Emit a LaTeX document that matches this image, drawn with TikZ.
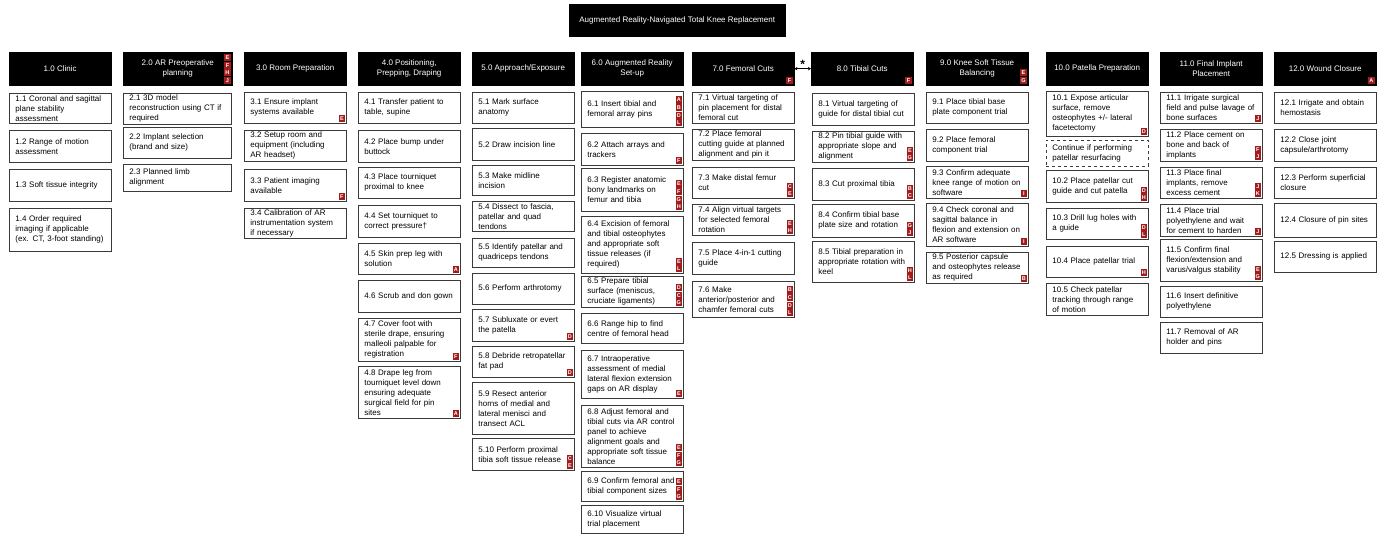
\documentclass[tikz,border=0pt]{standalone}
\usepackage{fontspec}
\setmainfont{Liberation Sans}
\usepackage{tikz}
\usetikzlibrary{arrows.meta, calc}
\definecolor{tkaframe}{HTML}{3A3A3A}
\definecolor{tkared}{HTML}{A11D1D}
\newcommand{\stepfont}{\fontsize{8}{10}\selectfont}
% letter tags in the lower right corner, listed bottom-up
\newcommand{\badges}[2]{%
  \foreach \l [count=\i from 0] in {#2}
    \node[lettertag, anchor=south east] (#1-\l) at ($(#1.south east)+(-1.5,{-1.2-7.6*\i})$) {\l};}

\begin{document}
\begin{tikzpicture}[x=1pt, y=-1pt,
    phase/.style={fill=black, draw=black, text=white, anchor=north west, minimum width=102pt,
                  minimum height=33pt, inner sep=2pt, align=center, font=\stepfont},
    stepbox/.style={draw=tkaframe, line width=0.8pt, fill=white, anchor=north west, inner xsep=6pt,
                    inner ysep=1pt, text width=90pt, align=left, font=\stepfont},
    widebox/.style={stepbox, text width=96pt},
    optbox/.style={stepbox, dashed},
    lettertag/.style={fill=tkared, text=white, inner sep=0pt, minimum width=6.5pt, minimum height=7.2pt,
                      font=\fontsize{5.5}{6}\selectfont\bfseries},
    link/.style={{Stealth[length=3pt,width=3.5pt]}-{Stealth[length=3pt,width=3.5pt]}, line width=0.8pt}
]
\useasboundingbox (0,0) rectangle (1384,534);

\node[phase, minimum width=216pt, minimum height=32pt] (title) at (569,4) {Augmented Reality-Navigated Total Knee Replacement};

% phase headers
\node[phase] (h1) at (9,52) {1.0 Clinic};
\node[phase, minimum width=109pt] (h2) at (123,52) {2.0 AR Preoperative\\planning};
\node[phase] (h3) at (244,52) {3.0 Room Preparation};
\node[phase] (h4) at (358,52) {4.0 Positioning,\\Prepping, Draping};
\node[phase] (h5) at (472,52) {5.0 Approach/Exposure};
\node[phase] (h6) at (581,52) {6.0 Augmented Reality\\Set-up};
\node[phase] (h7) at (692,52) {7.0 Femoral Cuts};
\node[phase] (h8) at (811,52) {8.0 Tibial Cuts};
\node[phase] (h9) at (926,52) {9.0 Knee Soft Tissue\\Balancing};
\node[phase] (h10) at (1046,52) {10.0 Patella Preparation};
\node[phase] (h11) at (1160,52) {11.0 Final Implant\\Placement};
\node[phase] (h12) at (1274,52) {12.0 Wound Closure};

\draw[link] (h7.east) -- node[above, font=\bfseries\large, inner sep=0pt] (star) {*} (h8.west);

% 1.0
\node[stepbox, minimum height=30pt] (s11) at (9,93) {1.1 Coronal and sagittal\\plane stability\\assessment};
\node[stepbox, minimum height=32pt] (s12) at (9,130) {1.2 Range of motion\\assessment};
\node[stepbox, minimum height=32pt] (s13) at (9,169) {1.3 Soft tissue integrity};
\node[stepbox, minimum height=43pt] (s14) at (9,208) {1.4 Order required\\imaging if applicable\\(ex. CT, 3-foot standing)};

% 2.0
\node[widebox, minimum height=31pt] (s21) at (123,93) {2.1 3D model\\reconstruction using CT if\\required};
\node[widebox, minimum height=31pt] (s22) at (123,127) {2.2 Implant selection\\(brand and size)};
\node[widebox, minimum height=27pt] (s23) at (123,164) {2.3 Planned limb\\alignment};

% 3.0
\node[stepbox, minimum height=31pt] (s31) at (244,92) {3.1 Ensure implant\\systems available};
\node[stepbox, minimum height=31pt] (s32) at (244,130) {3.2 Setup room and\\equipment (including\\AR headset)};
\node[stepbox, minimum height=32pt] (s33) at (244,169) {3.3 Patient imaging\\available};
\node[stepbox, minimum height=30pt] (s34) at (244,208) {3.4 Calibration of AR\\instrumentation system\\if necessary};

% 4.0
\node[stepbox, minimum height=31pt] (s41) at (358,92) {4.1 Transfer patient to\\table, supine};
\node[stepbox, minimum height=32pt] (s42) at (358,130) {4.2 Place bump under\\buttock};
\node[stepbox, minimum height=31pt] (s43) at (358,167) {4.3 Place tourniquet\\proximal to knee};
\node[stepbox, minimum height=32pt] (s44) at (358,205) {4.4 Set tourniquet to\\correct pressure†};
\node[stepbox, minimum height=31pt] (s45) at (358,243) {4.5 Skin prep leg with\\solution};
\node[stepbox, minimum height=32pt] (s46) at (358,280) {4.6 Scrub and don gown};
\node[stepbox, minimum height=43pt] (s47) at (358,318) {4.7 Cover foot with\\sterile drape, ensuring\\malleoli palpable for\\registration};
\node[stepbox, minimum height=52pt] (s48) at (358,366) {4.8 Drape leg from\\tourniquet level down\\ensuring adequate\\surgical field for pin\\sites};

% 5.0
\node[stepbox, minimum height=31pt] (s51) at (472,92) {5.1 Mark surface\\anatomy};
\node[stepbox, minimum height=32pt] (s52) at (472,128) {5.2 Draw incision line};
\node[stepbox, minimum height=30pt] (s53) at (472,165) {5.3 Make midline\\incision};
\node[stepbox, minimum height=30pt] (s54) at (472,201) {5.4 Dissect to fascia,\\patellar and quad\\tendons};
\node[stepbox, minimum height=29pt] (s55) at (472,238) {5.5 Identify patellar and\\quadriceps tendons};
\node[stepbox, minimum height=31pt] (s56) at (472,273) {5.6 Perform arthrotomy};
\node[stepbox, minimum height=32pt] (s57) at (472,309) {5.7 Subluxate or evert\\the patella};
\node[stepbox, minimum height=31pt] (s58) at (472,346) {5.8 Debride retropatellar\\fat pad};
\node[stepbox, minimum height=52pt] (s59) at (472,382) {5.9 Resect anterior\\horns of medial and\\lateral menisci and\\transect ACL};
\node[stepbox, minimum height=32pt] (s510) at (472,438) {5.10 Perform proximal\\tibia soft tissue release};

% 6.0
\node[stepbox, minimum height=36pt] (s61) at (581,91) {6.1 Insert tibial and\\femoral array pins};
\node[stepbox, minimum height=32pt] (s62) at (581,133) {6.2 Attach arrays and\\trackers};
\node[stepbox, minimum height=43pt] (s63) at (581,168) {6.3 Register anatomic\\bony landmarks on\\femur and tibia};
\node[stepbox, minimum height=57pt] (s64) at (581,216) {6.4 Excision of femoral\\and tibial osteophytes\\and appropriate soft\\tissue releases (if\\required)};
\node[stepbox, minimum height=31pt] (s65) at (581,276) {6.5 Prepare tibial\\surface (meniscus,\\cruciate ligaments)};
\node[stepbox, minimum height=30pt] (s66) at (581,313) {6.6 Range hip to find\\centre of femoral head};
\node[stepbox, minimum height=48pt] (s67) at (581,350) {6.7 Intraoperative\\assessment of medial\\lateral flexion extension\\gaps on AR display};
\node[stepbox, minimum height=62pt] (s68) at (581,405) {6.8 Adjust femoral and\\tibial cuts via AR control\\panel to achieve\\alignment goals and\\appropriate soft tissue\\balance};
\node[stepbox, minimum height=30pt] (s69) at (581,471) {6.9 Confirm femoral and\\tibial component sizes};
\node[stepbox, minimum height=28pt] (s610) at (581,505) {6.10 Visualize virtual\\trial placement};

% 7.0
\node[stepbox, minimum height=31pt] (s71) at (692,92) {7.1 Virtual targeting of\\pin placement for distal\\femoral cut};
\node[stepbox, minimum height=31pt] (s72) at (692,129) {7.2 Place femoral\\cutting guide at planned\\alignment and pin it};
\node[stepbox, minimum height=31pt] (s73) at (692,167) {7.3 Make distal femur\\cut};
\node[stepbox, minimum height=31pt] (s74) at (692,204) {7.4 Align virtual targets\\for selected femoral\\rotation};
\node[stepbox, minimum height=32pt] (s75) at (692,242) {7.5 Place 4-in-1 cutting\\guide};
\node[stepbox, minimum height=36pt] (s76) at (692,281) {7.6 Make\\anterior/posterior and\\chamfer femoral cuts};

% 8.0
\node[stepbox, minimum height=32pt] (s81) at (812,93) {8.1 Virtual targeting of\\guide for distal tibial cut};
\node[stepbox, minimum height=31pt] (s82) at (812,131) {8.2 Pin tibial guide with\\appropriate slope and\\alignment};
\node[stepbox, minimum height=32pt] (s83) at (812,168) {8.3 Cut proximal tibia};
\node[stepbox, minimum height=33pt] (s84) at (812,204) {8.4 Confirm tibial base\\plate size and rotation};
\node[stepbox, minimum height=41pt] (s85) at (812,241) {8.5 Tibial preparation in\\appropriate rotation with\\keel};

% 9.0
\node[stepbox, minimum height=31pt] (s91) at (926,92) {9.1 Place tibial base\\plate component trial};
\node[stepbox, minimum height=32pt] (s92) at (926,129) {9.2 Place femoral\\component trial};
\node[stepbox, minimum height=32pt] (s93) at (926,166) {9.3 Confirm adequate\\knee range of motion on\\software};
\node[stepbox, minimum height=43pt] (s94) at (926,203) {9.4 Check coronal and\\sagittal balance in\\flexion and extension on\\AR software};
\node[stepbox, minimum height=31pt] (s95) at (926,252) {9.5 Posterior capsule\\and osteophytes release\\as required};

% 10.0
\node[stepbox, minimum height=45pt] (s101) at (1046,91) {10.1 Expose articular\\surface, remove\\osteophytes +/- lateral\\facetectomy};
\node[optbox, minimum height=26pt] (cont) at (1046,140) {Continue if performing\\patellar resurfacing};
\node[stepbox, minimum height=32pt] (s102) at (1046,170) {10.2 Place patellar cut\\guide and cut patella};
\node[stepbox, minimum height=31pt] (s103) at (1046,208) {10.3 Drill lug holes with\\a guide};
\node[stepbox, minimum height=31pt] (s104) at (1046,246) {10.4 Place patellar trial};
\node[stepbox, minimum height=32pt] (s105) at (1046,283) {10.5 Check patellar\\tracking through range\\of motion};

% 11.0
\node[stepbox, minimum height=31pt] (s111) at (1160,92) {11.1 Irrigate surgical\\field and pulse lavage of\\bone surfaces};
\node[stepbox, minimum height=32pt] (s112) at (1160,129) {11.2 Place cement on\\bone and back of\\implants};
\node[stepbox, minimum height=31pt] (s113) at (1160,167) {11.3 Place final\\implants, remove\\excess cement};
\node[stepbox, minimum height=32pt] (s114) at (1160,204) {11.4 Place trial\\polyethylene and wait\\for cement to harden};
\node[stepbox, minimum height=42pt] (s115) at (1160,239) {11.5 Confirm final\\flexion/extension and\\varus/valgus stability};
\node[stepbox, minimum height=31pt] (s116) at (1160,286) {11.6 Insert definitive\\polyethylene};
\node[stepbox, minimum height=31pt] (s117) at (1160,322) {11.7 Removal of AR\\holder and pins};

% 12.0
\node[stepbox, minimum height=31pt] (s121) at (1274,92) {12.1 Irrigate and obtain\\hemostasis};
\node[stepbox, minimum height=32pt] (s122) at (1274,129) {12.2 Close joint\\capsule/arthrotomy};
\node[stepbox, minimum height=31pt] (s123) at (1274,167) {12.3 Perform superficial\\closure};
\node[stepbox, minimum height=34pt] (s124) at (1274,203) {12.4 Closure of pin sites};
\node[stepbox, minimum height=31pt] (s125) at (1274,241) {12.5 Dressing is applied};

% letter tags
\badges{h2}{J,H,F,E}
\badges{s31}{E}
\badges{s33}{F}
\badges{s45}{A}
\badges{s47}{F}
\badges{s48}{A}
\badges{s57}{D}
\badges{s58}{D}
\badges{s510}{E,C}
\badges{s61}{L,D,B,A}
\badges{s62}{F}
\badges{s63}{H,G,F,E}
\badges{s64}{L,E}
\badges{s65}{G,C,D}
\badges{s67}{E}
\badges{s68}{G,F,E}
\badges{s69}{G,F,E}
\badges{h7}{F}
\badges{s73}{E,C}
\badges{s74}{H,E}
\badges{s76}{L,D,C,B}
\badges{h8}{F}
\badges{s82}{G,E}
\badges{s83}{C,B}
\badges{s84}{J,G}
\badges{s85}{L,H}
\badges{h9}{G,E}
\badges{s93}{I}
\badges{s94}{I}
\badges{s95}{B}
\badges{s101}{D}
\badges{s102}{H,D}
\badges{s103}{L,D}
\badges{s104}{H}
\badges{s111}{J}
\badges{s112}{J,F}
\badges{s113}{K,J}
\badges{s114}{J}
\badges{s115}{G,E}
\badges{h12}{A}
\end{tikzpicture}
\end{document}
